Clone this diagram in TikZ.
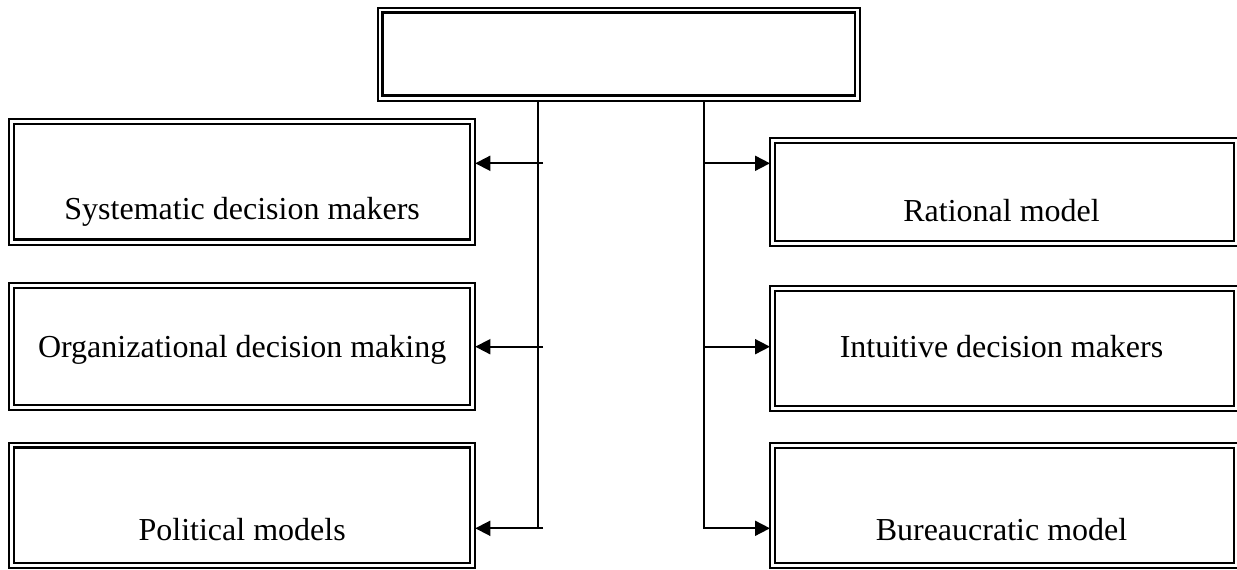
\documentclass[tikz,border=0pt]{standalone}
\usepackage{fontspec}
\setmainfont{Liberation Serif}
\usetikzlibrary{arrows.meta,calc}

% box with an outer frame and a second frame just inside it
\newcommand\dblbox[5]{%
  \node[obox, minimum width={#4-#2}, minimum height={#5-#3}] (#1)
    at ({(#2+#4)/2},{(#3+#5)/2}) {};
  \draw[ibox] ($(#1.north west)+(5,5)$) rectangle ($(#1.south east)+(-5,-5)$);
}

\tikzset{
  obox/.style={draw, line width=2pt, inner sep=0pt, outer sep=0pt},
  ibox/.style={line width=2.2pt},
  conn/.style={line width=1.8pt},
  arr/.style={line width=1.8pt, -{Triangle[length=15pt,width=15pt]}},
  lbl/.style={anchor=base, inner sep=0pt, font=\fontsize{32}{38}\selectfont},
}

\begin{document}
\begin{tikzpicture}[x=1pt,y=-1pt]
  \useasboundingbox[fill=white] (0,0) rectangle (1237,570);

  % top box
  \dblbox{top}{377.5}{7.5}{860}{100.5}

  % left column
  \dblbox{sys}{9}{119}{475.3}{244.5}
  \dblbox{org}{9}{283}{475.3}{410}
  \dblbox{pol}{9}{442.5}{475.3}{568}

  % right column
  \dblbox{rat}{770}{137.7}{1239}{246}
  \dblbox{int}{770}{286}{1239}{411}
  \dblbox{bur}{770}{442.7}{1239}{568}

  % labels
  \node[lbl] (sysT) at ($(sys.south)+(0,-25.5)$) {Systematic decision makers};
  \node[lbl] (orgT) at ($(org.south)+(0,-53)$) {Organizational decision making};
  \node[lbl] (polT) at ($(pol.south)+(0,-28)$) {Political models};
  \node[lbl] (ratT) at ($(rat.south)+(-3,-25)$) {Rational model};
  \node[lbl] (intT) at ($(int.south)+(-3,-54)$) {Intuitive decision makers};
  \node[lbl] (burT) at ($(bur.south)+(-3,-28)$) {Bureaucratic model};

  % spines below the top box
  \coordinate (ltop) at (538,100.5);
  \coordinate (lbot) at (538,528.3);
  \coordinate (rtop) at (704,100.5);
  \coordinate (rbot) at (704,528.3);
  \draw[conn] (ltop) -- (lbot);
  \draw[conn] (rtop) -- (rbot);

  % branch points
  \coordinate (l1) at (543,163.3);
  \coordinate (l2) at (543,346.7);
  \coordinate (l3) at (543,528.3);
  \coordinate (r1) at (703,163.3);
  \coordinate (r2) at (703,346.7);
  \coordinate (r3) at (703,528.3);

  % arrows into the boxes
  \draw[arr] (l1) -- (l1 -| sys.east);
  \draw[arr] (l2) -- (l2 -| org.east);
  \draw[arr] (l3) -- (l3 -| pol.east);
  \draw[arr] (r1) -- (r1 -| rat.west);
  \draw[arr] (r2) -- (r2 -| int.west);
  \draw[arr] (r3) -- (r3 -| bur.west);
\end{tikzpicture}
\end{document}
